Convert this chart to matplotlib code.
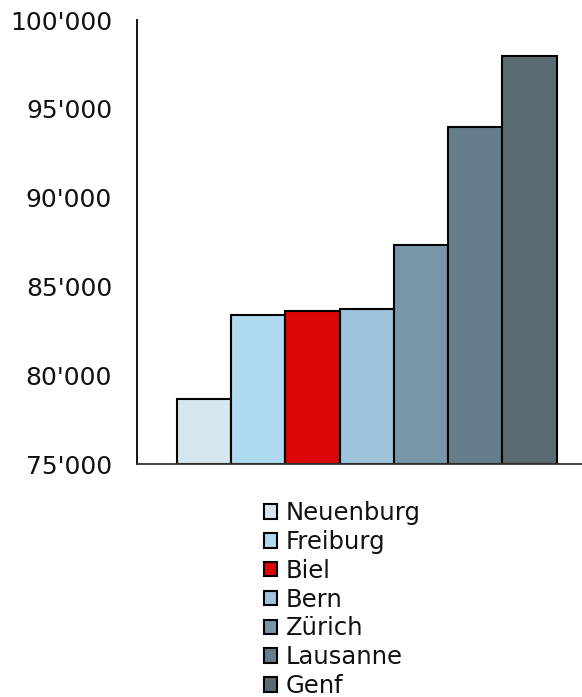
import matplotlib
matplotlib.use("Agg")
import matplotlib.pyplot as plt
from matplotlib.ticker import FuncFormatter, FixedLocator
from matplotlib.patches import Patch

cities = ["Neuenburg", "Freiburg", "Biel", "Bern", "Zürich", "Lausanne", "Genf"]
values = [78640, 83370, 83600, 83710, 87310, 93970, 97970]
colors = ["#D6E6EF", "#AED9EF", "#DD0606", "#9DC4DA", "#7796A8", "#667E8B", "#5B6B72"]
yticks = [75000, 80000, 85000, 90000, 95000, 100000]

plt.rcParams['font.family'] = ['DejaVu Sans']

fig = plt.figure(figsize=(5.82, 6.97), dpi=100)
ax = fig.add_axes([137/582, 1-464/697, 1-137/582, (464-20)/697])

x = list(range(len(cities)))
bars = ax.bar(x, [v - 75000 for v in values], bottom=75000, width=1.0,
              color=colors, edgecolor="black", linewidth=1.5)

ax.set_ylim(75000, 100000)
ax.set_xlim(-1.231, 6.966)
ax.yaxis.set_major_locator(FixedLocator(yticks))
ax.yaxis.set_major_formatter(FuncFormatter(lambda v, p: f"{int(v):,}".replace(",", "'")))
ax.tick_params(axis="y", length=0, pad=18, labelsize=18, colors="#111111")
ax.set_xticks([])
ax.spines["top"].set_visible(False)
ax.spines["right"].set_visible(False)
ax.spines["left"].set_linewidth(1.3)
ax.spines["bottom"].set_linewidth(1.3)
ax.spines["bottom"].set_color("#333333")

handles = [Patch(facecolor=c, edgecolor="black", linewidth=1.5) for c in colors]
leg = fig.legend(handles, cities, loc="upper left",
                 bbox_to_anchor=(264/582, 1-501/697), frameon=False,
                 fontsize=17.5, handlelength=0.55, handleheight=0.55,
                 handletextpad=0.35, labelspacing=0.2, borderpad=0,
                 borderaxespad=0)
for t in leg.get_texts():
    t.set_color("#111111")

fig.savefig("out.png", dpi=100)
